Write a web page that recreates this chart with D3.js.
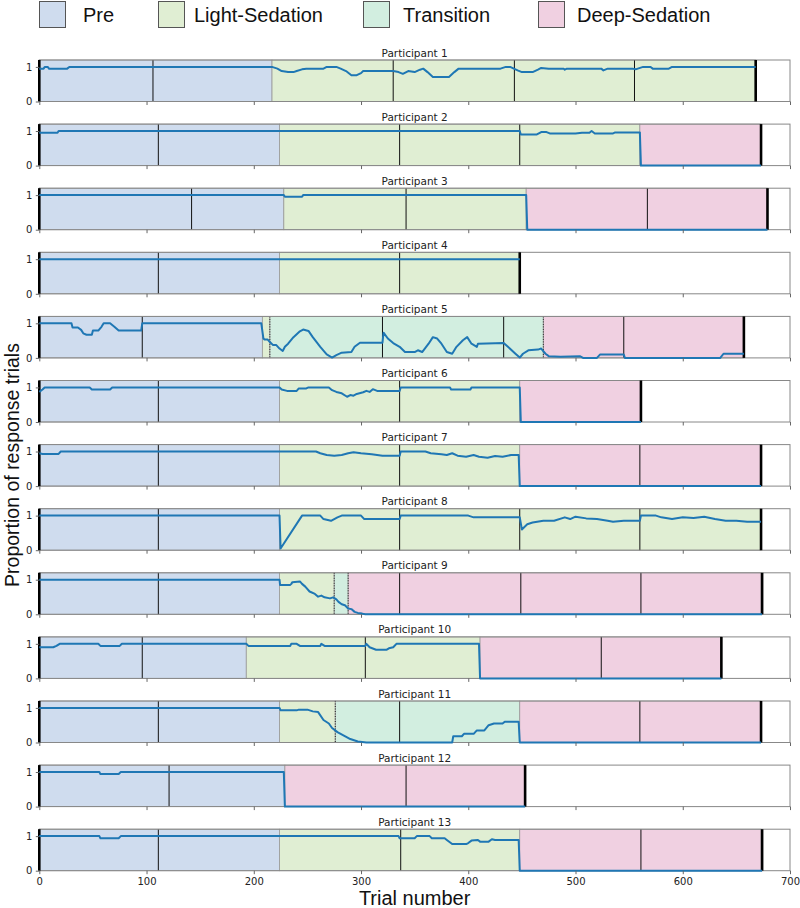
<!DOCTYPE html>
<html><head><meta charset="utf-8">
<script src="https://cdn.jsdelivr.net/npm/d3@7"></script>
<style>body{margin:0;background:#fff}svg{display:block}</style>
</head><body><div id="chart"></div>
<script>
// ---------- DATA ----------
const participants = ["Participant 1","Participant 2","Participant 3","Participant 4","Participant 5","Participant 6","Participant 7","Participant 8","Participant 9","Participant 10","Participant 11","Participant 12","Participant 13"];
const phaseNames = ["Pre","Light-Sedation","Transition","Deep-Sedation"];
const phaseColors = ["#cfdcee","#e0eed3","#d2eee0","#f0d0e1"];
const xTicks = [0,100,200,300,400,500,600,700];
const yTicks = [0,1];

// phase spans per participant: [start, end, phaseIndex]
const phaseSpans = [
  [[0,217,0],[217,668,1]],
  [[0,224,0],[224,560,1],[560,673,3]],
  [[0,228,0],[228,454,1],[454,679,3]],
  [[0,224,0],[224,448,1]],
  [[0,208,0],[208,215,1],[215,470,2],[470,657,3]],
  [[0,224,0],[224,448,1],[448,561,3]],
  [[0,224,0],[224,448,1],[448,673,3]],
  [[0,224,0],[224,673,1]],
  [[0,224,0],[224,275,1],[275,288,2],[288,673,3]],
  [[0,193,0],[193,411,1],[411,636,3]],
  [[0,224,0],[224,276,1],[276,448,2],[448,673,3]],
  [[0,229,0],[229,453,3]],
  [[0,224,0],[224,448,1],[448,673,3]]
];
// solid block boundaries
const blockLines = [
  [106,330,443,555],
  [111,336,448],
  [142,342,567],
  [111,336],
  [96,320,433,545],
  [111,336],
  [111,336,560],
  [111,336,448,560],
  [111,336,449,561],
  [96,304,524],
  [111,336,560],
  [121,342],
  [111,337,561]
];
// dotted phase-change markers
const dottedLines = [[],[],[],[],[215,470],[],[],[],[275,288],[],[276],[],[]];
// end of session (thick line)
const sessionEnds = [668,673,679,448,657,561,673,673,674,636,673,453,674];

const p1 = [[0,0.95],[4,0.95],[5,1],[8,1],[9,0.95],[26,0.95],[28,1],[217,1],[222,0.95],[226,0.88],[232,0.85],[237,0.85],[240,0.88],[245,0.93],[249,0.95],[265,0.95],[268,1],[277,1],[281,0.95],[286,0.88],[291,0.76],[296,0.76],[300,0.82],[302,0.88],[320,0.88],[330,0.88],[335,0.85],[339,0.8],[344,0.88],[350,0.85],[355,0.92],[358,0.95],[362,0.85],[367,0.71],[382,0.71],[387,0.85],[391,0.95],[430,0.95],[435,1],[439,1],[446,0.9],[450,0.85],[460,0.85],[465,0.92],[468,0.97],[475,0.95],[489,0.95],[490,0.92],[492,0.95],[524,0.95],[526,0.9],[530,0.95],[553,0.95],[556,0.93],[563,1],[570,1],[572,0.95],[587,0.95],[590,1],[668,1]];
const p2 = [[0,0.95],[17,0.95],[18,1],[448,1],[449,0.9],[464,0.9],[468,0.97],[473,0.97],[476,0.93],[487,0.93],[500,0.93],[506,0.95],[513,0.95],[515,1],[518,0.93],[535,0.93],[537,0.96],[560,0.96],[561,0],[673,0]];
const p3 = [[0,1],[228,1],[229,0.95],[245,0.95],[246,1],[454,1],[455,0],[679,0]];
const p4 = [[0,1],[448,1]];
const p5 = [[0,1],[30,1],[31,0.88],[36,0.88],[39,0.81],[41,0.71],[44,0.67],[49,0.67],[50,0.79],[55,0.79],[58,0.9],[60,1],[66,1],[70,0.9],[74,0.79],[95,0.79],[96,1],[207,1],[209,0.56],[210,0.53],[213,0.53],[215,0.46],[218,0.37],[221,0.37],[224,0.27],[227,0.2],[229,0.32],[232,0.41],[237,0.6],[243,0.77],[246,0.82],[251,0.78],[255,0.6],[262,0.32],[268,0.1],[273,0.01],[277,0.08],[282,0.15],[291,0.17],[294,0.32],[299,0.44],[320,0.44],[321,0.73],[325,0.56],[330,0.43],[336,0.32],[341,0.17],[350,0.17],[353,0.22],[357,0.17],[363,0.41],[367,0.6],[371,0.56],[375,0.41],[380,0.17],[385,0.12],[389,0.32],[395,0.51],[399,0.6],[403,0.41],[408,0.32],[409,0.41],[433,0.43],[437,0.32],[444,0.12],[448,0.01],[451,0.12],[456,0.22],[465,0.24],[468,0.27],[472,0.12],[475,0.05],[486,0.03],[504,0.05],[507,0],[520,0],[523,0.1],[545,0.1],[546,0],[635,0],[638,0.12],[657,0.12]];
const p6 = [[0,0.87],[3,0.94],[5,1],[47,1],[49,0.94],[66,0.94],[68,1],[224,1],[226,0.94],[231,0.9],[240,0.9],[242,0.97],[249,0.97],[251,1],[270,1],[273,0.92],[277,0.87],[282,0.83],[287,0.73],[290,0.78],[293,0.76],[296,0.81],[302,0.86],[305,0.9],[308,0.87],[311,0.95],[315,0.9],[336,0.9],[337,1],[383,1],[384,0.94],[402,0.94],[403,1],[448,1],[449,0],[561,0]];
const p7 = [[0,0.95],[3,0.93],[18,0.93],[20,1],[224,1],[258,1],[262,0.95],[268,0.9],[275,0.88],[282,0.9],[288,0.95],[293,0.98],[300,0.95],[310,0.92],[320,0.88],[336,0.88],[337,1],[360,1],[365,0.95],[375,0.92],[380,0.9],[385,0.95],[390,0.88],[398,0.85],[405,0.9],[410,0.85],[418,0.82],[425,0.87],[432,0.85],[440,0.9],[447,0.9],[448,0],[673,0]];
const p8 = [[0,1],[224,1],[225,0.05],[245,1],[262,1],[265,0.9],[272,0.85],[278,0.95],[282,1],[300,1],[303,0.9],[336,0.9],[337,1],[400,1],[405,0.95],[448,0.95],[450,0.6],[455,0.75],[460,0.8],[470,0.85],[480,0.85],[490,0.95],[495,0.9],[500,0.97],[510,0.92],[520,0.9],[530,0.85],[535,0.82],[545,0.85],[560,0.85],[561,1],[575,1],[580,0.95],[590,0.9],[600,0.95],[610,0.93],[620,0.97],[630,0.9],[640,0.85],[650,0.85],[660,0.82],[673,0.82]];
const p9 = [[0,1],[224,1],[224.5,0.85],[234,0.85],[235,0.88],[236,0.93],[243,0.95],[245,0.88],[248,0.8],[252,0.66],[257,0.59],[260,0.51],[263,0.54],[266,0.49],[271,0.46],[274,0.49],[277,0.43],[279,0.36],[282,0.29],[285,0.26],[288,0.17],[291,0.15],[294,0.07],[297,0.04],[301,0.02],[304,0],[674,0]];
const p10 = [[0,0.9],[13,0.9],[16,0.94],[19,1],[55,1],[57,0.94],[75,0.94],[77,1],[193,1],[195,0.94],[234,0.94],[235,1],[240,1],[243,0.94],[262,0.94],[263,1],[266,0.94],[304,0.94],[305,1],[308,0.9],[314,0.83],[324,0.83],[326,0.87],[330,0.9],[333,1],[410,1],[411,0],[636,0]];
const p11 = [[0,1],[224,1],[225,0.93],[240,0.93],[242,0.95],[250,0.95],[255,0.9],[260,0.88],[265,0.65],[270,0.55],[273,0.42],[278,0.3],[284,0.2],[290,0.1],[297,0.03],[305,0],[385,0],[386,0.18],[394,0.18],[396,0.25],[405,0.25],[408,0.35],[415,0.35],[419,0.5],[424,0.55],[432,0.55],[434,0.6],[447,0.6],[448,0],[673,0]];
const p12 = [[0,1],[56,1],[57,0.94],[74,0.94],[76,1],[228,1],[229,0],[453,0]];
const p13 = [[0,1],[56,1],[57,0.94],[74,0.94],[76,1],[335,1],[336,0.94],[350,0.94],[352,1],[364,1],[366,0.94],[378,0.94],[380,0.89],[385,0.77],[398,0.77],[400,0.8],[403,0.87],[409,0.89],[411,0.84],[419,0.84],[422,0.91],[425,0.89],[447,0.89],[448,0],[674,0]];
const responses = [p1,p2,p3,p4,p5,p6,p7,p8,p9,p10,p11,p12,p13];

// ---------- LAYOUT ----------
const W = 800, H = 908;
const left = 39.3, right = 790;
const top0 = 60, step = 64.1, ph = 41.5;

const svg = d3.select("#chart").append("svg").attr("width", W).attr("height", H);
const x = d3.scaleLinear().domain([0,700]).range([left,right]);
const line = d3.line();

// Legend
const legBoxX = [39,158,363,538];
const legTextX = [83,194,403,577];
phaseNames.forEach((n,i) => {
  const g = svg.append("g");
  g.append("rect").attr("x", legBoxX[i]+0.5).attr("y", 1.5).attr("width", 26).attr("height", 26)
    .attr("fill", phaseColors[i]).attr("stroke", "#555").attr("stroke-width", 1);
  g.append("text").attr("x", legTextX[i]).attr("y", 21.5)
    .attr("font-family", "Liberation Sans, Arial, sans-serif").attr("font-size", 20)
    .attr("fill", "#111").text(n);
});

participants.forEach((name, i) => {
  const t = top0 + i*step, b = t + ph;
  const y = d3.scaleLinear().domain([0,1.2]).range([b, t]);
  const g = svg.append("g");
  line.x(d => x(d[0])).y(d => y(d[1]));

  // phase backgrounds
  g.selectAll("rect.ph").data(phaseSpans[i]).join("rect")
    .attr("x", d => x(d[0])).attr("y", t)
    .attr("width", d => x(d[1]) - x(d[0])).attr("height", ph)
    .attr("fill", d => phaseColors[d[2]])
    .attr("stroke", "#999").attr("stroke-width", 0.8);

  // block lines
  g.selectAll("line.bl").data(blockLines[i]).join("line")
    .attr("x1", d => x(d)).attr("x2", d => x(d)).attr("y1", t).attr("y2", b)
    .attr("stroke", "#111").attr("stroke-width", 1);
  // dotted lines
  g.selectAll("line.dt").data(dottedLines[i]).join("line")
    .attr("x1", d => x(d)).attr("x2", d => x(d)).attr("y1", t).attr("y2", b)
    .attr("stroke", "#222").attr("stroke-width", 1).attr("stroke-dasharray", "1,1.5");

  // frame
  g.append("rect").attr("x", left).attr("y", t).attr("width", right-left).attr("height", ph)
    .attr("fill", "none").attr("stroke", "#888").attr("stroke-width", 1);

  // start & end thick lines
  [0, sessionEnds[i]].forEach(v => {
    g.append("line").attr("x1", x(v)).attr("x2", x(v)).attr("y1", t).attr("y2", b)
      .attr("stroke", "#000").attr("stroke-width", 2.6);
  });

  // response line
  g.append("path").attr("d", line(responses[i])).attr("fill", "none")
    .attr("stroke", "#1f77b4").attr("stroke-width", 2).attr("stroke-linejoin", "round");

  // axes
  const ya = g.append("g").attr("transform", `translate(${left},0)`)
    .call(d3.axisLeft(y).tickValues(yTicks).tickFormat(d3.format("d")).tickSize(3.5).tickPadding(3.5));
  const xa = g.append("g").attr("transform", `translate(0,${b})`)
    .call(d3.axisBottom(x).tickValues(xTicks).tickSize(3.5).tickPadding(3.5)
      .tickFormat(i === participants.length-1 ? d3.format("d") : () => ""));
  [ya, xa].forEach(a => {
    a.select(".domain").remove();
    a.selectAll("line").attr("stroke", "#666");
    a.selectAll("text").attr("font-family", "DejaVu Sans, sans-serif").attr("font-size", 10).attr("fill", "#222");
  });

  // title
  g.append("text").attr("x", (left+right)/2).attr("y", t - 3.5).attr("text-anchor", "middle")
    .attr("font-family", "DejaVu Sans, sans-serif").attr("font-size", 10.5).attr("fill", "#222").text(name);
});

// axis titles
svg.append("text").attr("transform", `translate(18.5,465) rotate(-90)`).attr("text-anchor", "middle")
  .attr("font-family", "Liberation Sans, Arial, sans-serif").attr("font-size", 19.5).attr("fill", "#111")
  .text("Proportion of response trials");
svg.append("text").attr("x", (left+right)/2).attr("y", 905).attr("text-anchor", "middle")
  .attr("font-family", "Liberation Sans, Arial, sans-serif").attr("font-size", 20).attr("fill", "#111")
  .text("Trial number");
</script>
</body></html>
